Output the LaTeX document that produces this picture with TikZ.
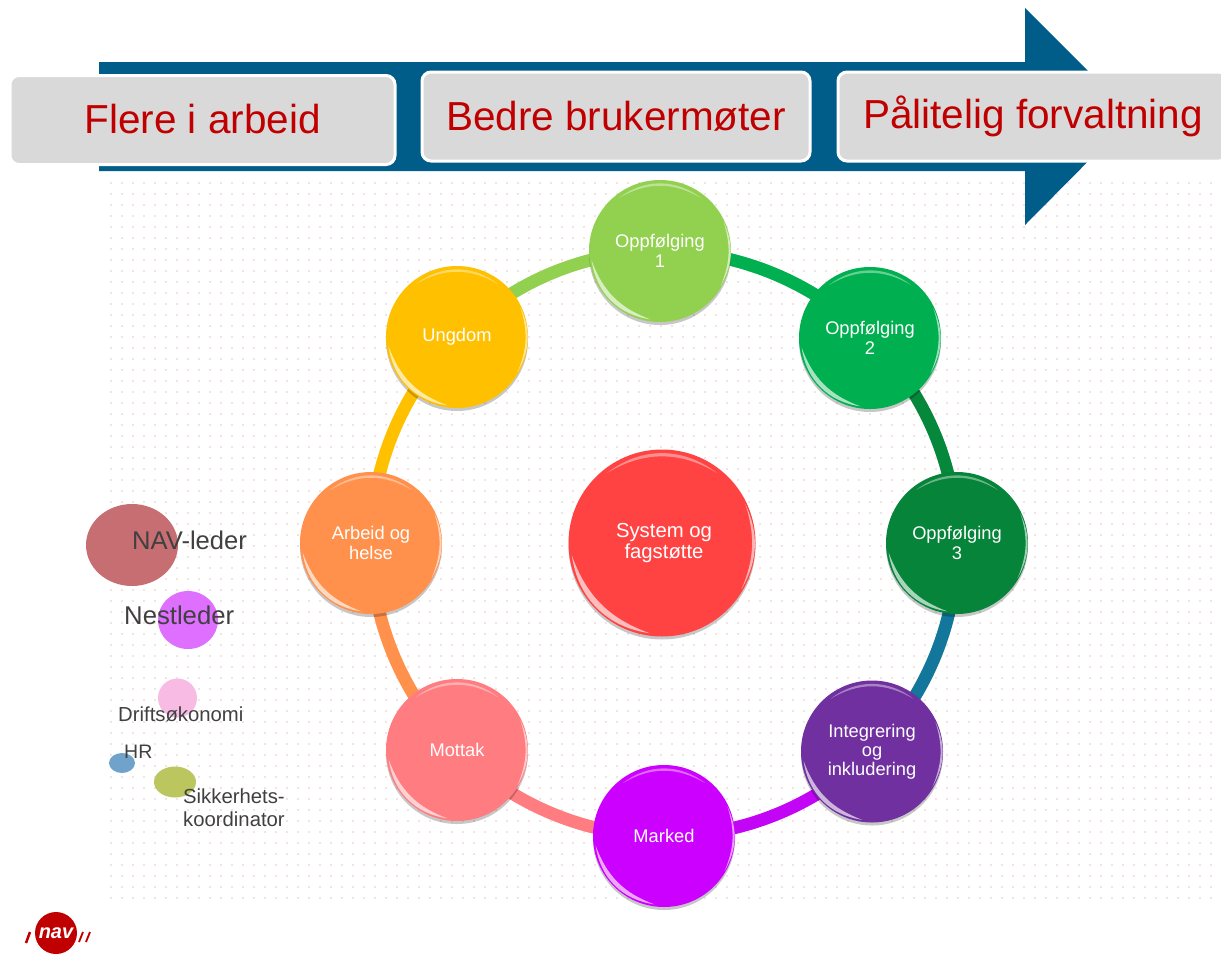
\documentclass[tikz,border=0pt]{standalone}
\usepackage{fontspec}
\setmainfont{Liberation Sans}
\usepackage{tikz}
\usetikzlibrary{calc,backgrounds,shadows}

\definecolor{navblue}{HTML}{005C89}
\definecolor{navred}{HTML}{C00000}
\definecolor{boxgray}{HTML}{D9D9D9}
\definecolor{legendtext}{HTML}{404040}
\definecolor{dotpink}{HTML}{F3E3E3}
\definecolor{oppA}{HTML}{92D050}
\definecolor{oppB}{HTML}{00B050}
\definecolor{oppC}{HTML}{06843A}
\definecolor{integr}{HTML}{7030A0}
\definecolor{marked}{HTML}{CC00FF}
\definecolor{mottak}{HTML}{FF7C80}
\definecolor{arbeid}{HTML}{FF914D}
\definecolor{ungdom}{HTML}{FFC000}
\definecolor{system}{HTML}{FF4343}
\definecolor{tealink}{HTML}{12779B}
\definecolor{lederfill}{HTML}{C76E72}
\definecolor{nestfill}{HTML}{DE6FFF}
\definecolor{driftfill}{HTML}{F7BBE4}
\definecolor{hrfill}{HTML}{6FA3CC}
\definecolor{sikkerfill}{HTML}{BCC65E}

\tikzset{
  goalbox/.style={draw=white,line width=3pt,fill=boxgray,rounded corners=9pt,
    text=navred,font=\fontsize{40.5}{44}\selectfont,inner sep=0pt,outer sep=0pt,
    minimum height=89pt,minimum width=385pt},
  ringnode/.style={circle,fill=#1,text=white,align=center,inner sep=0pt,outer sep=0pt,
    minimum size=142pt,font=\fontsize{18.3}{20}\selectfont,
    drop shadow={shadow xshift=0pt,shadow yshift=-3pt,opacity=.22,fill=black}},
  ringlink/.style={line width=12.5pt,draw=#1,bend left=22.5,looseness=0.885},
  legendtext/.style={text=legendtext,inner sep=0pt,anchor=west,align=left},
  glint/.style={fill=white,opacity=.65}
}

\begin{document}
\begin{tikzpicture}[x=1pt,y=-1pt]
\useasboundingbox (0,0) rectangle (1221,970);

% ring
\node at (660,251) [ringnode=oppA] (opp1) {Oppfølging\\1};
\node at (870,338) [ringnode=oppB] (opp2) {Oppfølging\\2};
\node at (957,543) [ringnode=oppC] (opp3) {Oppfølging\\3};
\node at (872,751.5) [ringnode=integr,font=\fontsize{18.3}{19}\selectfont] (integ) {Integrering\\og\\inkludering};
\node at (664,836) [ringnode=marked] (marked) {Marked};
\node at (457,750) [ringnode=mottak] (mottak) {Mottak};
\node at (371,543) [ringnode=arbeid] (arbeid) {Arbeid og\\helse};
\node at (457,337) [ringnode=ungdom] (ungdom) {Ungdom};
\node at (662,543) [ringnode=system,minimum size=187pt,font=\fontsize{20.3}{21}\selectfont] (system) {\hspace*{4pt}System og\\\hspace*{4pt}fagstøtte};

\foreach \n/\r in {opp1/71,opp2/71,opp3/71,integ/71,marked/71,mottak/71,arbeid/71,ungdom/71,system/93}
{
  \fill[glint] ($(\n)+(172:\r-2)$) to[bend right=37] ($(\n)+(98:\r-2)$) to[bend left=25] cycle;
  \fill[glint,opacity=.4] ($(\n)+(-128:\r-4)$) to[bend left=38] ($(\n)+(-52:\r-4)$) to[bend right=31] cycle;
  \fill[glint,opacity=.6] ($(\n)+(-25:\r-1)$) to[bend left=27] ($(\n)+(30:\r-1)$) to[bend right=20] cycle;
}

\begin{scope}[on background layer]
% dots
\foreach \rowy in {0,...,65}
  \draw[dotpink,line width=1.6pt,dash pattern=on 1.6pt off 9.4pt]
    (110,183+\rowy*11) -- (1221,183+\rowy*11);

% arrow
\fill[navblue] (99,62) -- (1025,62) -- (1025,8) -- (1133,116) -- (1025,225) -- (1025,171) -- (99,171) -- cycle;

% links, light edge first
\foreach \a/\b/\col/\dx in {ungdom/opp1/oppA/0,opp1/opp2/oppB/0,opp2/opp3/oppC!90!oppB/1.5,
    opp3/integ/tealink/2,integ/marked/marked!90!integr/0,marked/mottak/mottak/0,
    mottak/arbeid/arbeid/-2,arbeid/ungdom/ungdom/-2}
{
  \draw[ringlink=\col!40!white,shift={(\dx,2)}] (\a.center) to (\b.center);
  \draw[ringlink=\col] (\a.center) to (\b.center);
}
\end{scope}

% goals
\node at (202.5,120) [goalbox] (flere) {\raisebox{2pt}{Flere i arbeid}};
\node at (616,116.5) [goalbox,minimum width=388pt] (bedre) {\raisebox{1pt}{Bedre brukermøter}};
\node at (1033,116.5) [goalbox,minimum width=390pt] (paalitelig) {\raisebox{-2pt}{Pålitelig forvaltning}};

% legend
\fill[fill=lederfill] (132,545) ellipse (46 and 41);
\fill[fill=nestfill] (188,620) ellipse (30 and 29);
\fill[fill=driftfill] (177.5,698) ellipse (19.5 and 19.5);
\fill[fill=hrfill] (122,763) ellipse (13 and 10);
\fill[fill=sikkerfill] (175,782) ellipse (21 and 15.5);
\node at (132,540) [legendtext,font=\fontsize{25.6}{28}\selectfont] (leder) {NAV-leder};
\node at (124,615) [legendtext,font=\fontsize{25.7}{28}\selectfont] (nest) {Nestleder};
\node at (118,714) [legendtext,font=\fontsize{20.3}{23}\selectfont] (drift) {Driftsøkonomi};
\node at (124,752) [legendtext,font=\fontsize{19.5}{23}\selectfont] (hr) {HR};
\node at (183,807.5) [legendtext,font=\fontsize{20.3}{23}\selectfont] (sikker) {Sikkerhets-\\koordinator};

% logo
\node at (56,933) [circle,fill=navred,minimum size=42pt,inner sep=0pt,text=white] (logo)
  {\fontsize{20}{20}\selectfont\bfseries\itshape nav};
\draw[navred,line width=2.5pt] (26,943) -- (30,932);
\draw[navred,line width=1.8pt] (79,942) -- (83,932);
\draw[navred,line width=1.8pt] (86,942) -- (90,932);
\end{tikzpicture}
\end{document}
